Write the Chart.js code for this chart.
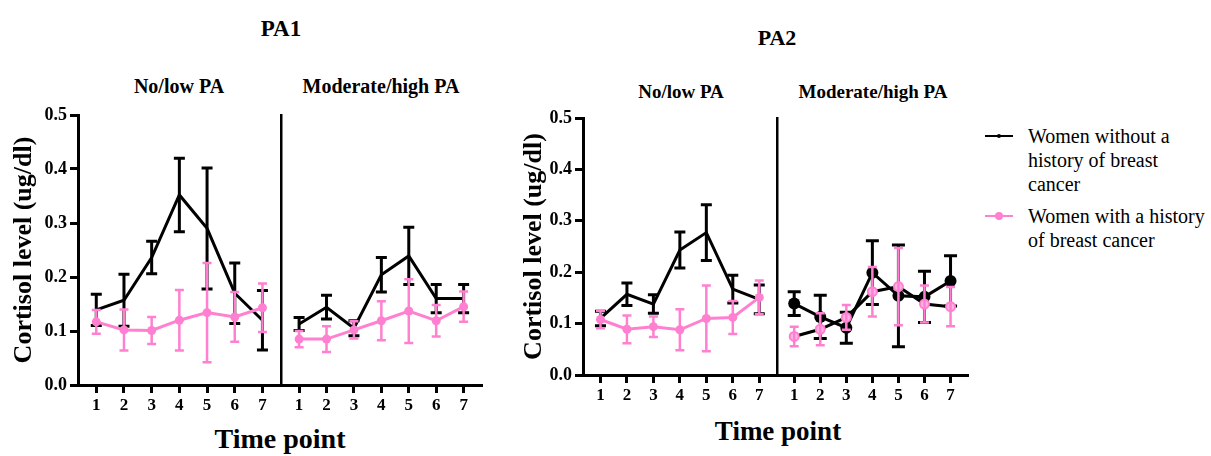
<!DOCTYPE html>
<html>
<head>
<meta charset="utf-8">
<script src="https://cdn.jsdelivr.net/npm/chart.js@4.4.1/dist/chart.umd.min.js"></script>
<style>
  body { margin: 0; width: 1211px; height: 456px; background: #fff; position: relative; overflow: hidden;
         font-family: 'Liberation Serif', 'Times New Roman', serif; color: #000; }
  canvas { position: absolute; }
  .lbl { position: absolute; transform: translate(-50%, -50%); white-space: nowrap; font-weight: bold; line-height: 1; }
  .legend { position: absolute; left: 985px; font-family: 'Liberation Serif', serif; font-size: 20px; line-height: 24px; }
  .legend .txt { position: absolute; left: 43px; white-space: nowrap; }
  .legend .line { position: absolute; left: 0; width: 28px; height: 2px; }
  .legend .dot { position: absolute; border-radius: 50%; }
</style>
</head>
<body>
<div class="lbl" style="left:281px; top:28px; font-size:23px;">PA1</div>
<div class="lbl" style="left:777px; top:38px; font-size:22px;">PA2</div>
<div class="lbl" style="left:179px; top:86px; font-size:20px;">No/low PA</div>
<div class="lbl" style="left:381px; top:86px; font-size:20px;">Moderate/high PA</div>
<div class="lbl" style="left:681px; top:91px; font-size:19px;">No/low PA</div>
<div class="lbl" style="left:873px; top:91px; font-size:19px;">Moderate/high PA</div>
<div class="lbl" style="left:280px; top:439px; font-size:28px;">Time point</div>
<div class="lbl" style="left:778px; top:431px; font-size:27px;">Time point</div>

<canvas id="pa1Low" width="290" height="330" style="left:0; top:100px;"></canvas>
<canvas id="pa1High" width="220" height="330" style="left:270px; top:100px;"></canvas>
<canvas id="pa2Low" width="275" height="320" style="left:510px; top:100px;"></canvas>
<canvas id="pa2High" width="210" height="320" style="left:766px; top:100px;"></canvas>

<div class="legend" style="top:124px;">
  <div class="line" style="top:11px; background:#000;"></div>
  <div class="dot" style="left:12px; top:10px; width:4px; height:4px; background:#000;"></div>
  <div class="txt">Women without a<br>history of breast<br>cancer</div>
</div>
<div class="legend" style="top:204px;">
  <div class="line" style="top:11px; background:#ff80d0;"></div>
  <div class="dot" style="left:10px; top:8px; width:8px; height:8px; background:#ff80d0;"></div>
  <div class="txt">Women with a history<br>of breast cancer</div>
</div>

<script>
// x categories and y tick labels
const timePoints = [1, 2, 3, 4, 5, 6, 7];
const yTickLabels = ['0.0', '0.1', '0.2', '0.3', '0.4', '0.5'];

// PA1 - No/low PA (mean and SD)
const pa1LowNoCancer   = [0.139, 0.157, 0.236, 0.352, 0.290, 0.170, 0.120];
const pa1LowNoCancerSd = [0.029, 0.048, 0.030, 0.068, 0.112, 0.056, 0.055];
const pa1LowCancer     = [0.117, 0.102, 0.101, 0.120, 0.134, 0.126, 0.143];
const pa1LowCancerSd   = [0.022, 0.038, 0.025, 0.056, 0.092, 0.046, 0.045];

// PA1 - Moderate/high PA
const pa1HighNoCancer   = [0.113, 0.144, 0.105, 0.204, 0.239, 0.160, 0.160];
const pa1HighNoCancerSd = [0.012, 0.022, 0.014, 0.032, 0.053, 0.026, 0.026];
const pa1HighCancer     = [0.085, 0.085, 0.102, 0.119, 0.137, 0.119, 0.145];
const pa1HighCancerSd   = [0.015, 0.024, 0.016, 0.036, 0.059, 0.029, 0.028];

// PA2 - No/low PA
const pa2LowNoCancer   = [0.110, 0.157, 0.138, 0.243, 0.277, 0.167, 0.147];
const pa2LowNoCancerSd = [0.014, 0.022, 0.018, 0.035, 0.054, 0.027, 0.028];
const pa2LowCancer     = [0.108, 0.089, 0.094, 0.088, 0.110, 0.112, 0.151];
const pa2LowCancerSd   = [0.017, 0.027, 0.020, 0.040, 0.064, 0.032, 0.033];

// PA2 - Moderate/high PA
const pa2HighNoCancer   = [0.139, 0.113, 0.092, 0.199, 0.154, 0.152, 0.183];
const pa2HighNoCancerSd = [0.023, 0.042, 0.030, 0.062, 0.099, 0.050, 0.049];
const pa2HighCancer     = [0.075, 0.089, 0.112, 0.162, 0.172, 0.138, 0.133];
const pa2HighCancerSd   = [0.019, 0.031, 0.024, 0.048, 0.075, 0.036, 0.038];

const PINK = '#ff80d0';
const FONT = "'Liberation Serif', 'Times New Roman', serif";

// draws mean +/- SD bars right after each dataset
const errorBars = {
  id: 'errorBars',
  afterDatasetDraw(chart, args) {
    const ds = chart.data.datasets[args.index];
    if (!ds.sd) return;
    const y = chart.scales.y;
    const ctx = chart.ctx;
    ctx.save();
    ctx.strokeStyle = ds.errColor;
    ctx.lineWidth = ds.errWidth;
    args.meta.data.forEach(function (pt, i) {
      const top = y.getPixelForValue(ds.data[i].y + ds.sd[i]);
      const bot = y.getPixelForValue(ds.data[i].y - ds.sd[i]);
      ctx.beginPath();
      ctx.moveTo(pt.x, top); ctx.lineTo(pt.x, bot);
      ctx.moveTo(pt.x - ds.cap, top); ctx.lineTo(pt.x + ds.cap, top);
      ctx.moveTo(pt.x - ds.cap, bot); ctx.lineTo(pt.x + ds.cap, bot);
      ctx.stroke();
    });
    ctx.restore();
  }
};

function toPoints(values) {
  return timePoints.map(function (t, i) { return { x: t, y: values[i] }; });
}

function makeChart(id, cfg) {
  const tickGrid = {
    display: true, drawOnChartArea: false, drawTicks: true,
    tickLength: 8, tickWidth: 3, tickColor: '#000'
  };
  new Chart(document.getElementById(id), {
    type: 'line',
    data: {
      datasets: [
        { // with a history of breast cancer (drawn on top)
          data: toPoints(cfg.cancer), sd: cfg.cancerSd,
          borderColor: cfg.cancerLine || PINK, borderWidth: 3,
          pointRadius: cfg.cancerDot || 4.5, pointBackgroundColor: cfg.cancerFill || PINK,
          pointBorderColor: PINK, pointBorderWidth: cfg.cancerFill ? 2 : 0,
          errColor: PINK, errWidth: 2.5, cap: 4.5, clip: false
        },
        { // without a history of breast cancer
          data: toPoints(cfg.noCancer), sd: cfg.noCancerSd,
          borderColor: '#000', borderWidth: 3,
          pointRadius: cfg.blackDot || 0, pointBackgroundColor: '#000', pointBorderWidth: 0,
          errColor: '#000', errWidth: 3, cap: cfg.blackCap || 5.5, clip: false
        }
      ]
    },
    options: {
      responsive: false,
      animation: false,
      layout: { padding: cfg.padding },
      plugins: { legend: { display: false }, tooltip: { enabled: false } },
      scales: {
        x: {
          type: 'linear', min: 0.34, max: 7.67,
          ticks: {
            stepSize: 1, includeBounds: false, autoSkip: false, maxRotation: 0, padding: 2,
            color: '#000', font: { family: FONT, size: 17, weight: 'bold' },
            callback: function (v) { return timePoints.includes(v) ? String(v) : ''; }
          },
          grid: tickGrid,
          border: { display: true, color: '#000', width: 3 },
          afterFit: function (s) { s.height = 45; }
        },
        y: {
          type: 'linear', min: 0, max: 0.5,
          ticks: {
            display: cfg.showY, stepSize: 0.1, padding: 3,
            color: '#000', font: { family: FONT, size: 18, weight: 'bold' },
            callback: function (v, i) { return yTickLabels[i]; }
          },
          grid: cfg.showY ? tickGrid : { display: false },
          border: { display: true, color: '#000', width: cfg.showY ? 3 : 2.5 },
          title: {
            display: cfg.showY, text: 'Cortisol level (ug/dl)', color: '#000',
            font: { family: FONT, size: 26, weight: 'bold' }, padding: { top: 9, bottom: 0 }
          },
          afterFit: function (s) { s.width = cfg.yWidth; }
        }
      }
    },
    plugins: [errorBars]
  });
}

makeChart('pa1Low', {
  noCancer: pa1LowNoCancer, noCancerSd: pa1LowNoCancerSd,
  cancer: pa1LowCancer, cancerSd: pa1LowCancerSd,
  showY: true, yWidth: 78, padding: { top: 15, right: 9, left: 0, bottom: 0 }
});
makeChart('pa1High', {
  noCancer: pa1HighNoCancer, noCancerSd: pa1HighNoCancerSd,
  cancer: pa1HighCancer, cancerSd: pa1HighCancerSd,
  showY: false, yWidth: 0, padding: { top: 15, right: 8, left: 11, bottom: 0 }
});
makeChart('pa2Low', {
  noCancer: pa2LowNoCancer, noCancerSd: pa2LowNoCancerSd,
  cancer: pa2LowCancer, cancerSd: pa2LowCancerSd,
  showY: true, yWidth: 73, padding: { top: 18, right: 8, left: 0, bottom: 0 }
});
makeChart('pa2High', {
  noCancer: pa2HighNoCancer, noCancerSd: pa2HighNoCancerSd,
  cancer: pa2HighCancer, cancerSd: pa2HighCancerSd,
  showY: false, yWidth: 0, padding: { top: 18, right: 8, left: 11, bottom: 0 },
  blackDot: 6, blackCap: 6.5, cancerLine: '#000', cancerDot: 4.5, cancerFill: '#ffb0e4'
});
</script>
</body>
</html>
